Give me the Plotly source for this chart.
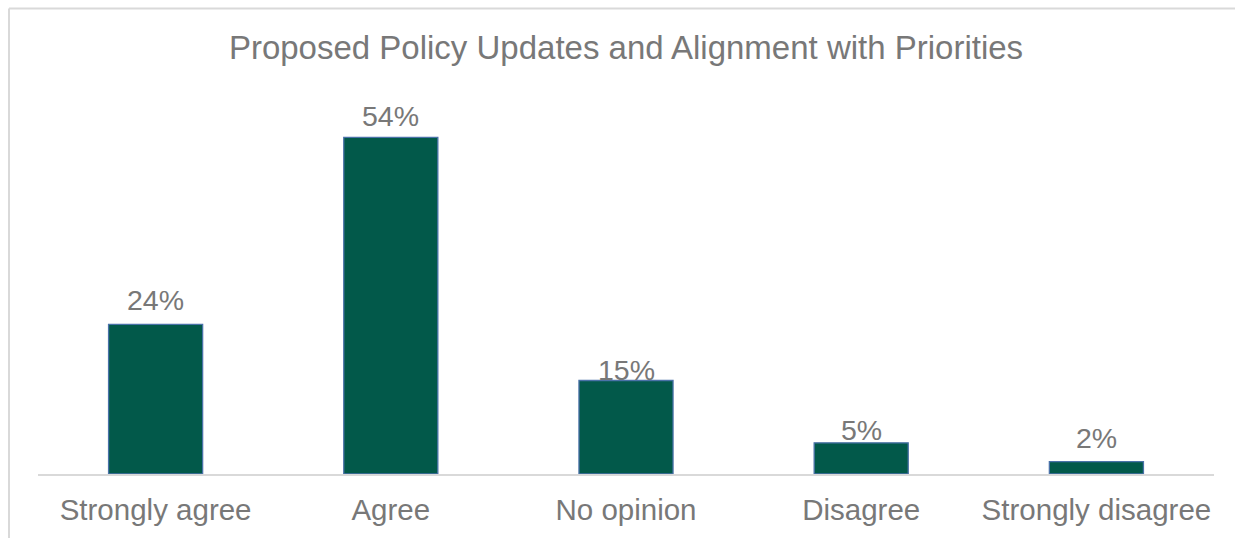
import plotly.graph_objects as go

# Survey responses
categories = ["Strongly agree", "Agree", "No opinion", "Disagree", "Strongly disagree"]
shares = [24, 54, 15, 5, 2]
value_labels = ["24%", "54%", "15%", "5%", "2%"]

# vertical pixel offset of each value label above its bar (style only)
label_shift = [24, 21, 11, 13, 24]

W, H = 1235, 538
ML, MR, MT, MB = 38, 21, 100, 62
TEXT = "#787878"
FONT = "Liberation Sans, Arial, sans-serif"

fig = go.Figure(
    go.Bar(
        x=categories,
        y=shares,
        width=0.40,
        marker=dict(color="#02594A", line=dict(color="#4A72A8", width=1.3)),
        hoverinfo="skip",
    )
)

for cat, val, lab, dy in zip(categories, shares, value_labels, label_shift):
    fig.add_annotation(
        x=cat, y=val, text=lab, showarrow=False,
        yanchor="middle", yshift=dy,
        font=dict(family=FONT, size=28.5, color=TEXT),
    )

# light grey chart frame (left and top edges visible)
pw = W - ML - MR
ph = H - MT - MB
x_left = (9 - ML) / pw
y_top = 1 + (MT - 8) / ph
frame = dict(color="#D9D9D9", width=2)
fig.add_shape(type="line", xref="paper", yref="paper",
              x0=x_left, x1=(W + 5 - ML) / pw, y0=y_top, y1=y_top, line=frame)
fig.add_shape(type="line", xref="paper", yref="paper",
              x0=x_left, x1=x_left, y0=y_top, y1=-(MB + 5) / ph, line=frame)

fig.update_layout(
    width=W, height=H,
    margin=dict(l=ML, r=MR, t=MT, b=MB),
    paper_bgcolor="white", plot_bgcolor="white",
    showlegend=False,
    title=dict(
        text="Proposed Policy Updates and Alignment with Priorities",
        x=(ML + pw / 2) / W, xanchor="center",
        y=1 - 47 / H, yanchor="middle",
        font=dict(family=FONT, size=33, color=TEXT),
    ),
    xaxis=dict(
        showgrid=False, zeroline=False,
        showline=True, linecolor="#D9D9D9", linewidth=2,
        ticks="", tickfont=dict(family=FONT, size=29.5, color=TEXT),
        ticklabelstandoff=9,
    ),
    yaxis=dict(range=[0, 60], visible=False),
)

fig.write_html("out.html")
